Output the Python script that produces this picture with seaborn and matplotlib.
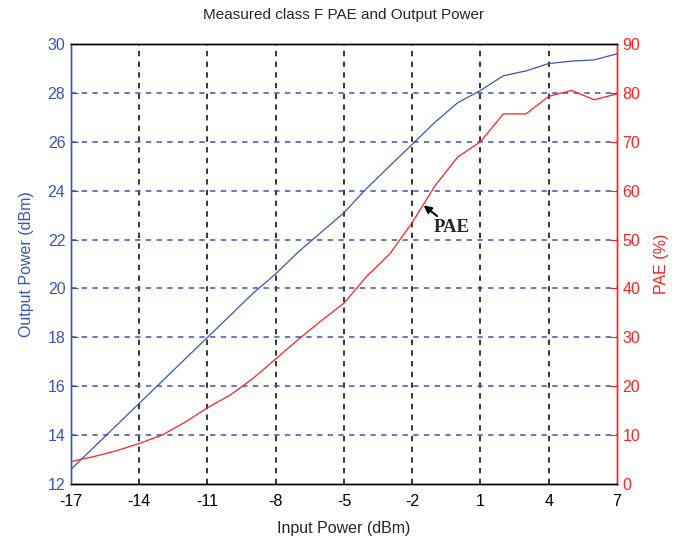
import numpy as np
import pandas as pd
import matplotlib
matplotlib.use("Agg")
import matplotlib.pyplot as plt
import seaborn as sns

# Input power sweep (dBm)
pin = [-17, -16, -15, -14, -13, -12, -11, -10, -9, -8, -7, -6,
       -5, -4, -3, -2, -1, 0, 1, 2, 3, 4, 5, 6, 7]
# Output power (dBm)
pout = [12.6, 13.5, 14.4, 15.3, 16.2, 17.1, 18.0, 18.9, 19.8, 20.6, 21.5, 22.3,
        23.1, 24.1, 25.0, 25.9, 26.8, 27.6, 28.1, 28.7, 28.9, 29.2, 29.3, 29.35, 29.6]
# PAE (%)
pae = [4.6, 5.6, 6.8, 8.3, 10.0, 12.6, 15.6, 18.2, 21.6, 25.6, 29.6, 33.4,
       37.0, 42.5, 47.0, 53.5, 61.0, 66.9, 70.0, 75.7, 75.7, 79.3, 80.5, 78.6, 79.8]

df = pd.DataFrame({"pin": pin, "pout": pout, "pae": pae})

sns.set_style("white")
plt.rcParams["font.family"] = ["Liberation Sans", "DejaVu Sans"]
plt.rcParams["axes.unicode_minus"] = False

blue = "#3a55b4"
red = "#ff2020"

fig = plt.figure(figsize=(6.82, 5.44), dpi=100)
ax = fig.add_axes([71 / 682, 1 - 484 / 544, (617 - 71) / 682, (484 - 44) / 544])
ax2 = ax.twinx()

sns.lineplot(data=df, x="pin", y="pout", ax=ax, color=blue, linewidth=0.9)
sns.lineplot(data=df, x="pin", y="pae", ax=ax2, color=red, linewidth=0.9)

ax.set_xlim(-17, 7)
ax.set_ylim(12, 30)
ax2.set_ylim(0, 90)
ax.set_xticks(np.arange(-17, 8, 3))
ax.set_yticks(np.arange(12, 31, 2))
ax2.set_yticks(np.arange(0, 91, 10))

# grid: vertical black dashed, horizontal blue dashed
for xv in np.arange(-14, 7, 3):
    ax.axvline(xv, color="black", linestyle=(0, (3.5, 3.5)), linewidth=1.1, zorder=0)
for yv in np.arange(14, 30, 2):
    ax.axhline(yv, color=blue, linestyle=(0, (3.5, 3.5)), linewidth=1.1, zorder=0)

ax.set_xlabel("Input Power (dBm)", fontsize=11.5, labelpad=9)
ax.set_ylabel("Output Power (dBm)", fontsize=11.5, color=blue, labelpad=10)
ax2.set_ylabel("PAE (%)", fontsize=11.5, color=red, labelpad=10)
ax.set_title("Measured class F PAE and Output Power", fontsize=11, pad=18)

ax.tick_params(axis="x", direction="in", length=5, labelsize=11.5, colors="black", pad=7)
ax.tick_params(axis="y", direction="in", length=5, labelsize=11.5, colors=blue, pad=4)
ax2.tick_params(axis="y", direction="in", length=5, labelsize=11.5, colors=red, pad=4)

for a in (ax, ax2):
    a.spines["top"].set_color("black")
    a.spines["bottom"].set_color("black")
    a.spines["left"].set_color(blue)
    a.spines["right"].set_color(red)
    for s in a.spines.values():
        s.set_linewidth(1.0)

ax2.annotate("PAE", xy=(-1.5, 57.0), xytext=(-1.05, 52.4),
             fontsize=13.5, fontweight="bold", family="Liberation Serif",
             va="center", ha="left",
             arrowprops=dict(arrowstyle="-|>", color="black", lw=1.5,
                             mutation_scale=11, shrinkA=0, shrinkB=0))

fig.savefig("out.png", dpi=100)
